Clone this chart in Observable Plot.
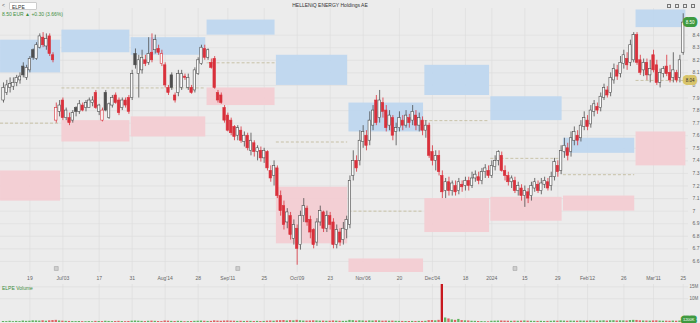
<!DOCTYPE html>
<html><head><meta charset="utf-8">
<script src="https://cdn.jsdelivr.net/npm/d3@7"></script>
<script src="https://cdn.jsdelivr.net/npm/@observablehq/plot@0.6"></script>
<style>
body{margin:0;background:#ececec;}
#wrap{position:relative;width:700px;height:323px;overflow:hidden;background:#ececec;font-family:"Liberation Sans",Arial,sans-serif;}
#main,#vol{position:absolute;left:0;}
#main{top:0;} #vol{top:283px;}
.hd{position:absolute;font-size:5px;line-height:6px;white-space:nowrap;}
#search{position:absolute;left:9px;top:2px;width:28px;height:8px;background:#fff;border:0.5px solid #ccc;border-radius:1px;font-size:5px;line-height:8px;padding-left:2px;box-sizing:border-box;color:#333;}
.ic{position:absolute;top:4px;width:4px;height:4px;border:0.6px solid #777;box-sizing:border-box;}
</style></head>
<body><div id="wrap">
<div id="main"></div><div id="vol"></div>
<div class="hd" style="left:2px;top:2px;color:#555;">&lt;</div>
<div id="search">ELPE</div>
<div class="hd" style="left:0;width:660px;top:2px;text-align:center;color:#333;">HELLENiQ ENERGY Holdings AE</div>
<div class="hd" style="left:2px;top:11px;color:#3f8f3f;">8.50 EUR ▲ +0.30 (3.66%)</div>
<div class="hd" style="left:2px;top:285px;color:#3f8f3f;">ELPE Volume</div>
<div class="ic" style="left:667px;"></div><div class="ic" style="left:675px;"></div><div class="ic" style="left:683px;"></div><div class="ic" style="left:691px;"></div>
</div>
<script>
// OHLC per trading day (EUR): [open, high, low, close]
const ohlc = [
[7.88,8.02,7.86,7.98],[7.94,8.04,7.92,8.00],[7.98,8.06,7.94,8.01],[7.99,8.06,7.96,8.02],[8.02,8.08,7.99,8.06],
[8.04,8.10,8.01,8.07],[8.15,8.18,8.06,8.08],[8.06,8.16,8.04,8.14],[8.12,8.23,8.10,8.21],[8.28,8.29,8.20,8.22],
[8.21,8.34,8.20,8.32],[8.30,8.41,8.29,8.39],[8.38,8.42,8.30,8.32],[8.31,8.41,8.28,8.37],[8.39,8.41,8.23,8.25],
[8.24,8.26,8.18,8.20],[7.72,7.86,7.70,7.82],[7.79,7.88,7.75,7.84],[7.88,7.90,7.72,7.74],[7.74,7.82,7.72,7.80],
[7.74,7.78,7.68,7.70],[7.72,7.80,7.70,7.78],[7.82,7.83,7.75,7.79],[7.79,7.88,7.77,7.85],[7.84,7.86,7.79,7.80],
[7.82,7.88,7.79,7.86],[7.82,7.90,7.82,7.88],[7.86,7.91,7.83,7.88],[7.94,7.96,7.81,7.82],[7.79,7.85,7.76,7.84],
[7.72,7.82,7.71,7.80],[7.94,7.96,7.79,7.80],[7.74,7.86,7.73,7.85],[7.84,7.92,7.82,7.90],[7.92,7.94,7.85,7.86],
[7.88,7.90,7.76,7.78],[7.82,7.90,7.80,7.88],[7.88,7.90,7.82,7.84],[7.90,7.92,7.77,7.79],[7.90,8.12,7.88,8.09],
[8.25,8.29,8.13,8.16],[8.09,8.24,7.90,8.20],[8.12,8.28,8.09,8.22],[8.20,8.24,8.15,8.17],[8.18,8.38,8.16,8.25],
[8.26,8.41,8.18,8.20],[8.28,8.40,8.25,8.36],[8.29,8.32,8.24,8.26],[8.17,8.28,8.15,8.25],[8.16,8.18,7.98,8.00],
[7.98,8.00,7.92,7.94],[8.08,8.10,7.96,7.98],[7.92,7.94,7.86,7.88],[7.94,8.12,7.91,8.09],[7.98,8.12,7.96,8.09],
[8.07,8.09,8.04,8.06],[7.98,8.09,7.96,8.06],[7.98,8.00,7.93,7.94],[7.96,8.14,7.94,8.12],[8.09,8.22,8.08,8.20],
[8.17,8.32,8.16,8.30],[8.29,8.32,8.20,8.22],[8.22,8.29,8.20,8.28],[8.18,8.21,8.13,8.14],[8.21,8.23,7.97,7.98],
[7.94,7.96,7.86,7.88],[7.92,7.94,7.85,7.86],[7.82,7.84,7.70,7.72],[7.76,7.78,7.63,7.64],[7.72,7.74,7.60,7.62],
[7.67,7.68,7.56,7.59],[7.60,7.68,7.56,7.66],[7.64,7.67,7.54,7.56],[7.55,7.63,7.51,7.60],[7.60,7.62,7.48,7.50],
[7.48,7.62,7.44,7.56],[7.54,7.56,7.43,7.47],[7.47,7.52,7.40,7.50],[7.48,7.51,7.39,7.42],[7.42,7.50,7.38,7.48],
[7.47,7.48,7.32,7.34],[7.32,7.36,7.23,7.26],[7.28,7.40,7.20,7.36],[7.34,7.36,7.10,7.12],[7.12,7.16,6.96,7.00],
[7.04,7.08,6.85,6.89],[6.91,7.02,6.86,6.99],[6.96,6.99,6.77,6.81],[6.78,6.93,6.73,6.89],[6.86,6.89,6.57,6.70],
[6.73,7.00,6.69,6.96],[6.96,7.10,6.91,7.04],[7.02,7.04,6.88,6.91],[6.93,6.96,6.78,6.83],[6.85,6.86,6.70,6.73],
[6.75,6.94,6.72,6.91],[6.91,7.04,6.88,7.00],[6.99,7.00,6.83,6.86],[6.86,7.00,6.83,6.96],[6.96,6.99,6.85,6.89],
[6.91,6.94,6.70,6.73],[6.73,6.89,6.70,6.85],[6.83,6.86,6.72,6.75],[6.77,6.91,6.73,6.86],[6.85,6.96,6.78,6.93],
[6.89,7.28,6.86,7.24],[7.28,7.48,7.24,7.40],[7.40,7.44,7.31,7.34],[7.40,7.64,7.36,7.56],[7.55,7.68,7.50,7.63],
[7.60,7.64,7.48,7.52],[7.56,7.79,7.52,7.72],[7.68,7.84,7.64,7.80],[7.88,7.92,7.68,7.70],[7.74,7.96,7.70,7.88],
[7.86,7.90,7.74,7.79],[7.80,7.84,7.63,7.66],[7.68,7.80,7.64,7.76],[7.74,7.76,7.56,7.60],[7.63,7.70,7.52,7.66],
[7.66,7.79,7.63,7.74],[7.72,7.76,7.64,7.68],[7.68,7.80,7.66,7.76],[7.74,7.77,7.66,7.70],[7.72,7.84,7.68,7.79],
[7.76,7.80,7.64,7.68],[7.68,7.78,7.63,7.74],[7.72,7.75,7.60,7.64],[7.64,7.72,7.58,7.68],[7.68,7.70,7.42,7.44],
[7.47,7.52,7.36,7.40],[7.40,7.48,7.32,7.44],[7.44,7.48,7.28,7.31],[7.28,7.32,7.10,7.15],[7.16,7.26,7.10,7.23],
[7.23,7.27,7.12,7.16],[7.16,7.24,7.12,7.22],[7.20,7.24,7.12,7.15],[7.16,7.26,7.13,7.23],[7.21,7.24,7.15,7.19],
[7.20,7.27,7.16,7.24],[7.24,7.27,7.16,7.20],[7.20,7.31,7.18,7.26],[7.26,7.32,7.23,7.29],[7.27,7.31,7.21,7.24],
[7.24,7.34,7.21,7.31],[7.31,7.37,7.26,7.34],[7.32,7.36,7.26,7.28],[7.28,7.40,7.26,7.36],[7.35,7.44,7.32,7.40],
[7.40,7.48,7.36,7.47],[7.44,7.47,7.31,7.32],[7.32,7.36,7.24,7.28],[7.28,7.31,7.20,7.23],[7.23,7.28,7.18,7.26],
[7.24,7.27,7.14,7.16],[7.16,7.23,7.12,7.20],[7.18,7.21,7.08,7.12],[7.12,7.20,7.03,7.16],[7.15,7.18,7.06,7.10],
[7.12,7.23,7.08,7.20],[7.18,7.26,7.15,7.23],[7.21,7.24,7.14,7.16],[7.16,7.26,7.13,7.22],[7.21,7.27,7.18,7.24],
[7.23,7.26,7.16,7.18],[7.20,7.31,7.16,7.27],[7.27,7.42,7.24,7.39],[7.36,7.40,7.27,7.31],[7.32,7.52,7.29,7.48],
[7.47,7.58,7.42,7.52],[7.50,7.54,7.40,7.44],[7.47,7.63,7.43,7.58],[7.56,7.67,7.52,7.63],[7.60,7.64,7.52,7.56],
[7.58,7.72,7.55,7.68],[7.67,7.79,7.64,7.74],[7.72,7.76,7.64,7.67],[7.69,7.84,7.66,7.80],[7.79,7.88,7.75,7.85],
[7.83,7.86,7.77,7.80],[7.82,7.94,7.79,7.91],[7.90,8.01,7.88,7.98],[7.96,7.99,7.90,7.92],[7.94,8.10,7.91,8.06],
[8.04,8.17,8.01,8.13],[8.12,8.16,8.04,8.07],[8.09,8.23,8.06,8.18],[8.17,8.28,8.13,8.24],[8.21,8.26,8.12,8.16],
[8.18,8.36,8.15,8.32],[8.20,8.42,8.18,8.40],[8.40,8.42,8.16,8.18],[8.20,8.24,8.08,8.10],[8.12,8.21,8.07,8.18],
[8.18,8.21,8.04,8.08],[8.08,8.20,8.02,8.13],[8.24,8.28,8.10,8.12],[8.16,8.20,8.00,8.02],[8.02,8.13,7.98,8.10],
[8.09,8.15,8.06,8.13],[8.15,8.24,8.07,8.09],[8.10,8.16,8.02,8.04],[8.06,8.26,8.02,8.12],[8.10,8.12,8.02,8.04],
[8.06,8.24,8.02,8.20],[8.26,8.57,8.24,8.50]
];
// Volume per trading day (thousand shares)
const volume = [
420,380,510,350,460,390,610,480,530,700,650,580,720,540,690,820,900,640,560,480,
450,400,380,420,360,340,390,310,470,430,380,520,440,360,410,480,390,350,430,560,
620,540,470,390,510,580,490,420,380,640,560,470,430,500,460,350,380,410,490,530,
600,520,450,470,690,580,520,610,650,580,540,460,520,440,500,480,430,470,410,450,
560,620,540,700,760,820,640,780,690,900,720,600,580,620,700,640,560,590,520,540,
650,560,520,480,510,880,760,600,720,640,560,680,620,700,650,560,600,540,580,500,
470,450,430,420,460,440,470,450,500,780,820,700,900,16000,1900,1500,1100,900,1300,800,
700,650,520,480,420,380,330,300,520,560,600,640,580,540,500,560,520,580,640,560,
520,480,460,500,440,470,520,600,540,660,580,520,600,560,540,620,580,560,640,600,
560,640,700,580,720,760,640,700,680,620,820,900,860,700,640,620,580,660,700,600,
540,560,520,600,540,620,1200
];
// Monthly pivot zones: first trading-day index of each month
const monthStart = [0, 18, 39, 62, 83, 105, 128, 148, 170, 192];
const pivot    = [7.70, 7.98, 7.98, 8.18, 7.55, 7.00, 7.72, 7.42, 7.29, 8.04];
const resTop   = [8.36, 8.44, 8.38, 8.52, 8.24, 7.86, 8.16, 7.91, 7.58, 8.60];
const resBot   = [8.10, 8.26, 8.24, 8.40, 8.00, 7.63, 7.92, 7.72, 7.46, 8.46];
const supTop   = [7.32, 7.72, 7.75, 7.98, 7.19, 6.62, 7.10, 7.11, 7.12, 7.63];
const supBot   = [7.08, 7.55, 7.59, 7.84, 6.74, 6.50, 6.83, 6.92, 7.00, 7.36];
// Event markers on the time axis
const eventIdx = [16, 71, 155];
// Axis ticks
const xTickIdx = [8, 18, 29, 39, 49, 59, 68, 79, 89, 99, 109, 120, 130, 140, 148, 158, 168, 177, 188, 197, 206];
const xTickLab = ["19","Jul'03","17","31","Aug'14","28","Sep'11","25","Oct'09","23","Nov'06","20","Dec'04","18","2024","15","29","Feb'12","26","Mar'11","25"];
const yTicks = [8.4,8.3,8.2,8.1,8.0,7.9,7.8,7.7,7.6,7.5,7.4,7.3,7.2,7.1,7.0,6.9,6.8,6.7,6.6];
const yTickLab = ["8.4","8.3","8.2","8.1","8","7.9","7.8","7.7","7.6","7.5","7.4","7.3","7.2","7.1","7","6.9","6.8","6.7","6.6"];
const vTicks = [10000, 15000];
const vTickLab = ["10M", "15M"];

const RED = "#d9303b", DARK = "#4d4d4d", GREEN = "#3f9a3f";
const N = ohlc.length;
const lastIdx = N - 1;
const rows = ohlc.map(([o,h,l,c], i) => {
  const prev = i ? ohlc[i-1][3] : o;
  return {i, o, h, l, c, up: c >= o, col: c < prev ? RED : DARK, vol: volume[i], vcol: c < prev ? "#e06060" : "#5fb35f"};
});
const months = monthStart.map((s, k) => ({
  x1: k === 0 ? -0.9 : s - 0.3,
  x2: k < monthStart.length - 1 ? monthStart[k+1] - 0.7 : lastIdx + 0.8,
  p: pivot[k], rt: resTop[k], rb: resBot[k], st: supTop[k], sb: supBot[k]
}));
const xDomain = [-0.909, 207.6];
const labMap = new Map(xTickIdx.map((d, k) => [d, xTickLab[k]]));
const yLabMap = new Map(yTicks.map((d, k) => [d, yTickLab[k]]));
const vLabMap = new Map(vTicks.map((d, k) => [d, vTickLab[k]]));
const last = rows[lastIdx];

const main = Plot.plot({
  width: 700, height: 283,
  marginTop: 8, marginBottom: 11, marginLeft: 0, marginRight: 12,
  style: {background: "#ececec", fontFamily: "Liberation Sans, Arial, sans-serif", fontSize: "5px", overflow: "visible"},
  x: {domain: xDomain, axis: null},
  y: {domain: [6.512, 8.612], axis: null},
  marks: [
    Plot.gridY(yTicks, {stroke: "#dcdcdc", strokeOpacity: 1, strokeWidth: 0.6}),
    Plot.gridX(xTickIdx, {stroke: "#dcdcdc", strokeOpacity: 1, strokeWidth: 0.6}),
    Plot.rect(months, {x1: "x1", x2: "x2", y1: "rb", y2: "rt", fill: "#bcd6f0", fillOpacity: 0.9, clip: true}),
    Plot.rect(months, {x1: "x1", x2: "x2", y1: "sb", y2: "st", fill: "#f4ccd2", fillOpacity: 0.9, clip: true}),
    Plot.ruleY(months, {x1: "x1", x2: "x2", y: "p", stroke: "#b9b08a", strokeWidth: 0.7, strokeDasharray: "3,2"}),
    Plot.ruleX(rows, {x: "i", y1: "l", y2: "h", stroke: "col", strokeWidth: 0.8}),
    Plot.rect(rows, {x1: d => d.i - 0.37, x2: d => d.i + 0.37, y1: "o", y2: "c", fill: d => d.up ? "#fbfbfb" : d.col, stroke: "col", strokeWidth: 0.6}),
    Plot.dot(eventIdx, {x: d => d, frameAnchor: "bottom", dy: -4, symbol: "square", r: 2.2, fill: "#cfcfcf", stroke: "#999", strokeWidth: 0.5}),
    Plot.axisY({anchor: "right", label: null, ticks: yTicks, tickFormat: d => yLabMap.get(d), tickSize: 0, tickPadding: 4, fontSize: 5, color: "#666", textAnchor: "start"}),
    Plot.axisX({anchor: "bottom", label: null, ticks: xTickIdx, tickFormat: d => labMap.get(d), tickSize: 0, tickPadding: 4, fontSize: 5, color: "#666"}),
    Plot.text([months[months.length-1]], {y: "p", text: d => d.p.toFixed(2), frameAnchor: "right", dx: 6, fill: "#333", stroke: "#d8c46a", strokeWidth: 6, fontSize: 4.5}),
    Plot.text([last], {y: "c", text: d => d.c.toFixed(2), frameAnchor: "right", dx: 6, fill: "#fff", stroke: GREEN, strokeWidth: 6, fontSize: 4.5})
  ]
});
document.getElementById("main").appendChild(main);

const vmax = d3.max(volume);
const vol = Plot.plot({
  width: 700, height: 40,
  marginTop: 1, marginBottom: 1, marginLeft: 0, marginRight: 12,
  style: {background: "#ececec", fontFamily: "Liberation Sans, Arial, sans-serif", fontSize: "5px", overflow: "visible"},
  x: {domain: xDomain, axis: null},
  y: {domain: [0, vmax], axis: null},
  marks: [
    Plot.gridX(xTickIdx, {stroke: "#dcdcdc", strokeOpacity: 1, strokeWidth: 0.6}),
    Plot.gridY(vTicks, {stroke: "#dcdcdc", strokeOpacity: 1, strokeWidth: 0.6}),
    Plot.rectY(rows, {x1: d => d.i - 0.35, x2: d => d.i + 0.35, y1: 0, y2: "vol", fill: d => d.i === 133 ? "#c8191f" : d.vcol}),
    Plot.axisY({anchor: "right", label: null, ticks: vTicks, tickFormat: d => vLabMap.get(d), tickSize: 0, tickPadding: 1, fontSize: 4.5, color: "#666", textAnchor: "start"}),
    Plot.text([last], {y: "vol", text: d => d.vol + "K", frameAnchor: "right", dx: 6, fill: "#fff", stroke: GREEN, strokeWidth: 5, fontSize: 4})
  ]
});
document.getElementById("vol").appendChild(vol);
</script>
</body></html>
